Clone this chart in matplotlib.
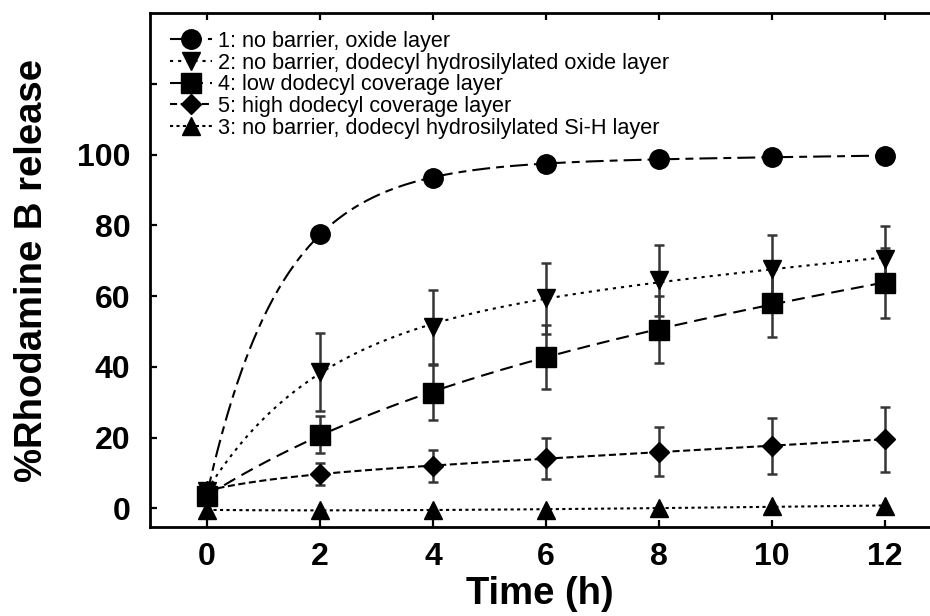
import numpy as np
import matplotlib
matplotlib.use("Agg")
import matplotlib.pyplot as plt
from matplotlib.lines import Line2D

plt.rcParams['font.family'] = ['Liberation Sans', 'DejaVu Sans']

# Sampling times (h)
time_h = [0, 2, 4, 6, 8, 10, 12]

# % Rhodamine B released for each surface
rel_oxide = [4.0, 77.4, 93.4, 97.4, 98.8, 99.4, 99.5]          # 1
rel_dodecyl_oxide = [5.0, 38.6, 51.3, 59.3, 64.4, 67.7, 70.6]  # 2
rel_low_cov = [3.5, 20.8, 32.7, 42.8, 50.5, 57.9, 63.7]        # 4
rel_high_cov = [5.0, 9.7, 11.9, 14.1, 16.0, 17.6, 19.5]        # 5
rel_dodecyl_sih = [-0.5, -0.5, -0.5, -0.5, 0.2, 0.5, 0.7]      # 3

# Standard deviations
err_dodecyl_oxide = [0.0, 11.0, 10.5, 10.0, 10.0, 9.5, 9.2]
err_low_cov = [0.0, 5.3, 7.8, 9.0, 9.5, 9.6, 9.8]
err_high_cov = [0.0, 3.2, 4.6, 5.9, 6.9, 8.0, 9.2]

labels = [
    "1: no barrier, oxide layer",
    "2: no barrier, dodecyl hydrosilylated oxide layer",
    "4: low dodecyl coverage layer",
    "5: high dodecyl coverage layer",
    "3: no barrier, dodecyl hydrosilylated Si-H layer",
]

x_ticks = [0, 2, 4, 6, 8, 10, 12]
y_ticks = [0, 20, 40, 60, 80, 100, 120]
y_tick_labels = ["0", "20", "40", "60", "80", "100", ""]


def release_fit(t, y):
    """Least-squares fit of y = c + A(1 - exp(-k t)) + B t (grid over k)."""
    t = np.asarray(t, float)
    y = np.asarray(y, float)
    best = None
    for k in np.linspace(0.05, 3.0, 600):
        X = np.column_stack([np.ones_like(t), 1 - np.exp(-k * t), t])
        coef, *_ = np.linalg.lstsq(X, y, rcond=None)
        sse = float(np.sum((X @ coef - y) ** 2))
        if best is None or sse < best[0]:
            best = (sse, k, coef)
    _, k, (c, a, b) = best
    return lambda tt: c + a * (1 - np.exp(-k * tt)) + b * tt


fig = plt.figure(figsize=(9.3, 6.16), dpi=100)
ax = fig.add_axes([150 / 930, 1 - 527 / 616, 780 / 930, 514 / 616])

LW = 1.5
series = [
    (rel_oxide, None, 'o', 14, (0, (8.6, 2.9, 3.8, 2.9))),
    (rel_dodecyl_oxide, err_dodecyl_oxide, 'v', 13, (0, (1.5, 2.4))),
    (rel_low_cov, err_low_cov, 's', 14, (0, (6.2, 3.4))),
    (rel_high_cov, err_high_cov, 'D', 10.2, (0, (3.4, 1.7))),
    (rel_dodecyl_sih, None, '^', 13, (0, (1.5, 1.6))),
]

t_dense = np.linspace(0, 12, 400)
handles = []
for (vals, err, mk, ms, ls), lab in zip(series, labels):
    f = release_fit(time_h, vals)
    ax.plot(t_dense, f(t_dense), color='black', lw=LW, linestyle=ls, zorder=2)
    if err is not None:
        t_e = [t for t, e in zip(time_h, err) if e > 0]
        v_e = [v for v, e in zip(vals, err) if e > 0]
        e_e = [e for e in err if e > 0]
        ax.errorbar(t_e, v_e, yerr=e_e, fmt='none', ecolor='#353535',
                    elinewidth=1.8, capsize=3.4, capthick=1.8, zorder=3)
    ax.plot(time_h, vals, linestyle='none', marker=mk, ms=ms,
            color='black', zorder=4)
    handles.append(Line2D([], [], color='black', lw=LW, linestyle=ls,
                          marker=mk, ms=ms))

ax.set_xlim(-1.01, 12.8)
ax.set_ylim(-5.3, 140)
ax.set_xticks(x_ticks)
ax.set_xticklabels([str(v) for v in x_ticks])
ax.set_yticks(y_ticks)
ax.set_yticklabels(y_tick_labels)

for s in ['left', 'bottom', 'top']:
    ax.spines[s].set_linewidth(2.0)
ax.spines['right'].set_visible(False)

ax.tick_params(axis='both', direction='in', length=5, width=1.6,
               labelsize=23, top=True, right=False)
ax.tick_params(axis='y', pad=14)
ax.tick_params(axis='x', pad=11)
for lbl in ax.get_xticklabels() + ax.get_yticklabels():
    lbl.set_fontweight('bold')

fig.text(32 / 930, 1 - 271 / 616, "%Rhodamine B release", rotation=90,
         ha='center', va='center', fontsize=27.5, fontweight='bold')
fig.text(540 / 930, 1 - 594 / 616, "Time (h)", ha='center', va='center',
         fontsize=27.5, fontweight='bold')

leg = ax.legend(handles, labels, loc='upper left',
                bbox_to_anchor=(20 / 780, 1 - 18 / 514), frameon=False,
                fontsize=15.6, handlelength=1.95, handletextpad=0.28,
                labelspacing=0.03, borderpad=0, borderaxespad=0)

fig.savefig("out.png", dpi=100)
